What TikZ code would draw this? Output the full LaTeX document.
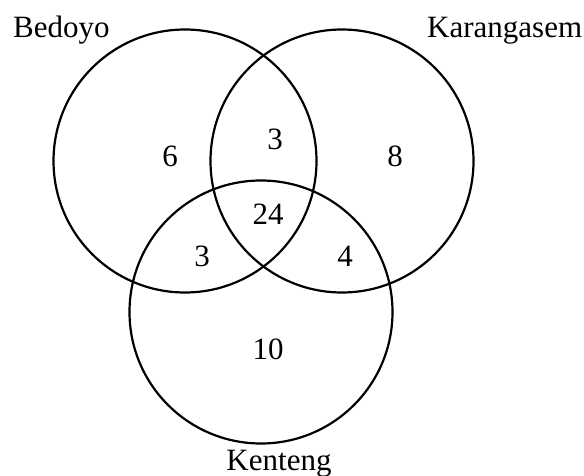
\documentclass[tikz,border=0pt]{standalone}
\usepackage{fontspec}
\setmainfont{Liberation Serif}
\begin{document}
\begin{tikzpicture}[x=1pt, y=-1pt,
    set/.style={draw, circle, line width=2.2pt, minimum size=263pt, inner sep=0pt},
    count/.style={font=\fontsize{31}{36}\selectfont, inner sep=0pt}]
    \useasboundingbox (0,0) rectangle (584,476);

    % The three sets
    \node[set] (bedoyo) at (185,161) {};
    \node[set] (karangasem) at (342,161) {};
    \node[set] (kenteng) at (261,312) {};

    % Set labels
    \node[count, anchor=base west] (lbedoyo) at (13,38) {Bedoyo};
    \node[count, anchor=base west] (lkarangasem) at (427,38) {Karangasem};
    \node[count, anchor=base] (lkenteng) at (279,470) {Kenteng};

    % Region counts
    \node[count] (nb) at (170,156) {6};
    \node[count] (nbk) at (275,139) {3};
    \node[count] (nk) at (395,156) {8};
    \node[count] (nall) at (268,214) {24};
    \node[count] (nbt) at (202,256) {3};
    \node[count] (nkt) at (345,256) {4};
    \node[count] (nt) at (268,349) {10};
\end{tikzpicture}
\end{document}
